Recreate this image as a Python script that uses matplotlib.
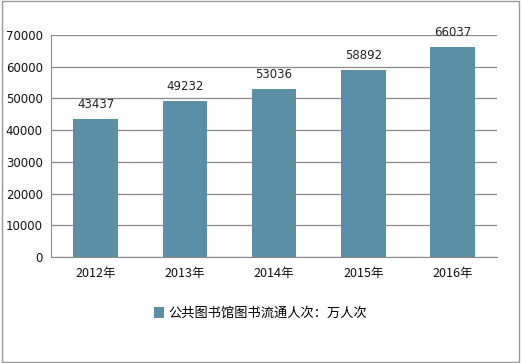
import matplotlib.pyplot as plt
from matplotlib.patches import Rectangle

plt.rcParams['font.family'] = ['Noto Sans CJK SC', 'DejaVu Sans']

years = ['2012年', '2013年', '2014年', '2015年', '2016年']
visits = [43437, 49232, 53036, 58892, 66037]
yticks = [0, 10000, 20000, 30000, 40000, 50000, 60000, 70000]
bar_color = '#5b8fa6'

fig = plt.figure(figsize=(5.21, 3.63), dpi=100)
ax = fig.add_axes([0.098, 0.292, 0.856, 0.612])

x = range(len(years))
ax.bar(x, visits, width=0.5, color=bar_color, zorder=2,
       label='公共图书馆图书流通人次：万人次')
for i, v in zip(x, visits):
    ax.text(i, v + 2500, str(v), ha='center', va='bottom', fontsize=8.5,
            color='#222222', family='DejaVu Sans')

ax.set_xlim(-0.5, len(years) - 0.5)
ax.set_ylim(0, 70000)
ax.set_yticks(yticks)
ax.set_yticklabels([str(t) for t in yticks], family='DejaVu Sans', fontsize=8.5)
ax.set_xticks(list(x))
ax.set_xticklabels(years, fontsize=9)
ax.tick_params(axis='both', length=0, pad=6, colors='#111111')
ax.tick_params(axis='x', pad=7)
ax.yaxis.grid(True, color='#888888', linewidth=0.9, zorder=0)
ax.set_axisbelow(True)
for s in ['top', 'right']:
    ax.spines[s].set_visible(False)
for s in ['left', 'bottom']:
    ax.spines[s].set_color('#888888')

fig.legend(loc='center', bbox_to_anchor=(0.5, 0.137), frameon=False,
           handlelength=0.8, handleheight=0.9, handletextpad=0.3,
           prop={'size': 9.5})

fig.patches.append(Rectangle((0.004, 0.004), 0.992, 0.992, transform=fig.transFigure,
                             fill=False, edgecolor='#999999', linewidth=1))

fig.savefig('out.png', dpi=100)
